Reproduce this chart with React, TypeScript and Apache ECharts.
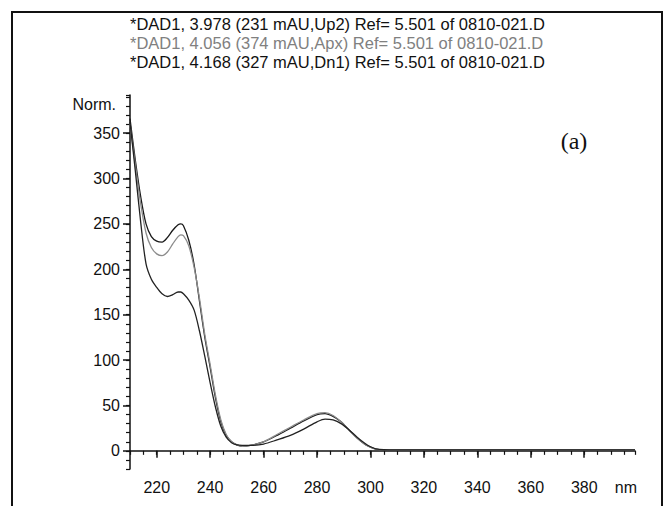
import React, { useEffect, useRef } from "react";
import * as echarts from "echarts";

const wavelengths = [210, 212, 214, 216, 218, 220, 222, 224, 226, 228, 229, 230, 232, 234, 236, 238, 240, 242, 244, 246, 248, 250, 252, 255, 260, 265, 270, 275, 280, 283, 286, 289, 292, 295, 298, 300, 302, 305, 310, 320, 340, 360, 380, 399];

const up2 = [366, 320, 280, 250, 236, 231, 230, 235, 243, 249, 250, 248, 232, 205, 165, 125, 92, 58, 32, 17, 10, 6.5, 5, 6, 10, 17, 25, 33, 40, 41, 38, 32, 23, 14, 7, 4, 2, 1.2, 1, 1, 1, 1, 1, 1];
const apx = [360, 315, 272, 240, 224, 217, 215, 219, 228, 236, 238, 237, 226, 202, 168, 128, 95, 61, 34, 18, 10, 6.5, 5, 6, 10, 18, 26, 34, 41, 42, 39, 32, 23, 14, 7, 4, 2, 1.2, 1, 1, 1, 1, 1, 1];
const dn1 = [362, 308, 252, 206, 189, 180, 173, 170, 172, 175, 175, 173, 166, 155, 132, 104, 75, 48, 27, 15, 9, 6.5, 6, 6, 7.5, 12, 17, 24, 32, 35, 34, 30, 23, 15, 8, 4.5, 2.2, 1.2, 1, 1, 1, 1, 1, 1];

const xLabels = [220, 240, 260, 280, 300, 320, 340, 360, 380];
const yLabels = [0, 50, 100, 150, 200, 250, 300, 350];

const titles = [
  "*DAD1, 3.978 (231 mAU,Up2) Ref= 5.501 of 0810-021.D",
  "*DAD1, 4.056 (374 mAU,Apx) Ref= 5.501 of 0810-021.D",
  "*DAD1, 4.168 (327 mAU,Dn1) Ref= 5.501 of 0810-021.D",
];
const titleColors = ["#111", "#808080", "#111"];

const pairs = (vals: number[]) => wavelengths.map((w, i) => [w, vals[i]]);

export default function App() {
  const ref = useRef<HTMLDivElement>(null);
  useEffect(() => {
    if (!ref.current) return;
    const chart = echarts.init(ref.current, undefined, { renderer: "svg" });
    const font = "'Liberation Sans', Arial, sans-serif";
    const lineStyleAxis = { color: "#111", width: 1.5 };
    chart.setOption({
      animation: false,
      backgroundColor: "#fff",
      grid: { left: 130, right: 34, top: 95, bottom: 37, containLabel: false },
      xAxis: [
        {
          type: "value",
          min: 210,
          max: 399,
          axisLine: { show: true, lineStyle: lineStyleAxis },
          axisTick: { show: true, length: 7, customValues: xLabels, lineStyle: lineStyleAxis },
          axisLabel: { customValues: xLabels, color: "#111", fontFamily: font, fontSize: 16, margin: 10 },
          splitLine: { show: false },
        },
        {
          type: "value",
          position: "bottom",
          min: 210,
          max: 399,
          interval: 5,
          axisLine: { show: false },
          axisTick: { show: true, length: 4, lineStyle: { color: "#111", width: 1.2 } },
          axisLabel: { show: false },
          splitLine: { show: false },
        },
      ],
      yAxis: [
        {
          type: "value",
          position: "left",
          min: -20,
          max: 392,
          axisLine: { show: true, lineStyle: lineStyleAxis },
          axisTick: { show: true, length: 7, customValues: yLabels, lineStyle: lineStyleAxis },
          axisLabel: { customValues: yLabels, color: "#111", fontFamily: font, fontSize: 16, margin: 10 },
          splitLine: { show: false },
        },
        {
          type: "value",
          position: "left",
          min: -20,
          max: 392,
          interval: 10,
          axisLine: { show: false },
          axisTick: { show: true, length: 4, lineStyle: { color: "#111", width: 1.2 } },
          axisLabel: { show: false },
          splitLine: { show: false },
        },
      ],
      series: [
        {
          name: "Up2",
          type: "line",
          data: pairs(up2),
          showSymbol: false,
          smooth: 0.3,
          lineStyle: { color: "#1a1a1a", width: 1.3 },
        },
        {
          name: "Apx",
          type: "line",
          data: pairs(apx),
          showSymbol: false,
          smooth: 0.3,
          lineStyle: { color: "#8c8c8c", width: 1.3 },
        },
        {
          name: "Dn1",
          type: "line",
          data: pairs(dn1),
          showSymbol: false,
          smooth: 0.3,
          lineStyle: { color: "#222", width: 1.3 },
        },
      ],
      graphic: [
        {
          type: "rect",
          shape: { x: 12, y: 12, width: 650, height: 540 },
          style: { fill: "none", stroke: "#111", lineWidth: 2 },
          silent: true,
        },
        ...titles.map((t, i) => ({
          type: "text",
          x: 130,
          y: 24 + i * 19,
          style: {
            text: t,
            fill: titleColors[i],
            font: `16.5px ${font}`,
            textVerticalAlign: "middle",
            textAlign: "left",
          },
        })),
        {
          type: "text",
          x: 116,
          y: 104,
          style: { text: "Norm.", fill: "#111", font: `16px ${font}`, textAlign: "right", textVerticalAlign: "middle" },
        },
        {
          type: "text",
          x: 637,
          y: 487,
          style: { text: "nm", fill: "#111", font: `16px ${font}`, textAlign: "right", textVerticalAlign: "middle" },
        },
        {
          type: "text",
          x: 574,
          y: 141,
          style: { text: "(a)", fill: "#111", font: `24px 'Liberation Serif', 'Times New Roman', serif`, textAlign: "center", textVerticalAlign: "middle" },
        },
      ],
    });
    return () => chart.dispose();
  }, []);
  return <div ref={ref} style={{ position: "absolute", left: 0, top: 0, width: 669, height: 506 }} />;
}
